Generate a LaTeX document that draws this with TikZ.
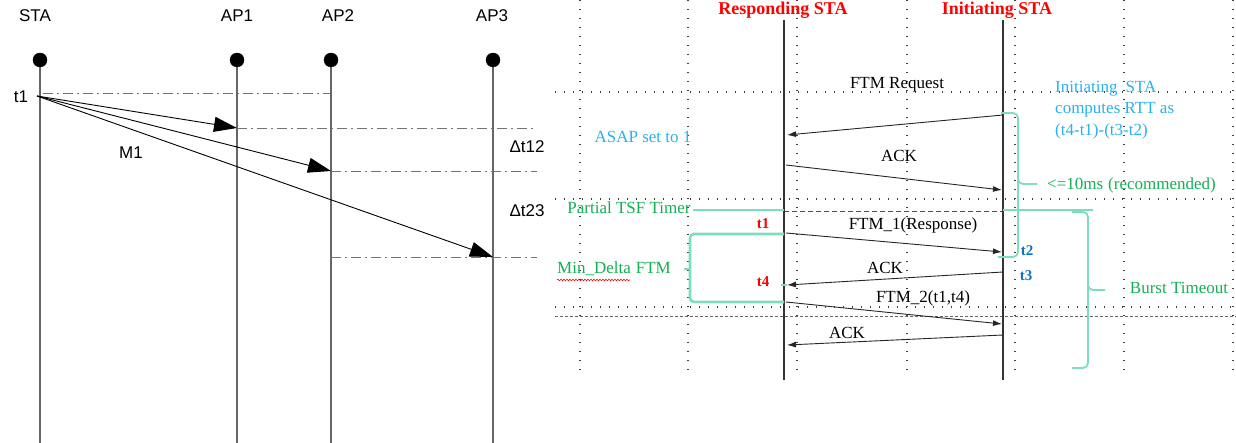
\documentclass[tikz,border=0pt]{standalone}
\usepackage{fontspec}
\setmainfont{Liberation Serif}
\setsansfont{Liberation Sans}
\usetikzlibrary{arrows.meta,decorations.pathmorphing}
\definecolor{bracketteal}{RGB}{125,222,190}
\definecolor{notegreen}{RGB}{20,175,85}
\definecolor{noteblue}{RGB}{40,178,235}
\definecolor{stamp}{RGB}{10,115,200}
\tikzset{
    lifeline/.style={draw=black!60, line width=1.1pt},
    headdot/.style={circle, fill=black, draw=black, inner sep=0pt, minimum size=14pt},
    sflabel/.style={font=\sffamily\fontsize{17}{20}\selectfont, inner sep=0pt},
    timeline/.style={draw=black!55, line width=0.9pt,
    dash pattern=on 10pt off 4pt on 2pt off 4pt},
    griddot/.style={draw=black!75, line width=1.1pt, dash pattern=on 1.1pt off 7.9pt},
    msglabel/.style={font=\fontsize{17}{19}\selectfont, inner sep=0pt},
}

\begin{document}
\begin{tikzpicture}[
            x=1pt, y=-1pt,
            probe/.style={draw=black, line width=0.9pt, -{Triangle[length=23pt,width=15pt]}},
            msg/.style={draw=black!85, line width=0.9pt, -{Latex[length=9pt,width=6pt]}},
            bracket/.style={draw=bracketteal, line width=2.6pt, rounded corners=4pt},
            brace/.style={draw=bracketteal, line width=1.8pt, rounded corners=5pt},
            stampred/.style={font=\bfseries\fontsize{15}{17}\selectfont, text=red, inner sep=0pt},
            stampblue/.style={font=\bfseries\fontsize{15}{17}\selectfont, text=stamp, inner sep=0pt}
        ]
            \useasboundingbox (0,0) rectangle (1236,443);
            % left: probe from STA to the APs
            \node[sflabel] (sta-l) at (35,16) {STA};
            \node[sflabel] (ap1-l) at (237,16) {AP1};
            \node[sflabel] (ap2-l) at (338,16) {AP2};
            \node[sflabel] (ap3-l) at (492,16) {AP3};
            \coordinate (sta-e) at (40,443);
            \coordinate (ap1-e) at (237,443);
            \coordinate (ap2-e) at (331,443);
            \coordinate (ap3-e) at (493,443);
            \draw[lifeline] (40,60) -- (sta-e);
            \draw[lifeline] (237,60) -- (ap1-e);
            \draw[lifeline] (331,60) -- (ap2-e);
            \draw[lifeline] (493,60) -- (ap3-e);
            \node[headdot] (sta) at (40,60) {};
            \node[headdot] (ap1) at (237,60) {};
            \node[headdot] (ap2) at (331,60) {};
            \node[headdot] (ap3) at (493,60) {};
            \coordinate (t1o) at (37,96);
            \coordinate (rx1) at (237,128);
            \coordinate (rx2) at (331,171);
            \coordinate (rx3) at (493,257);
            \draw[timeline] (43,93) -- (331,93);
            \draw[timeline] (rx1) -- (537,128);
            \draw[timeline] (rx2) -- (537,171);
            \draw[timeline] (331,257) -- (537,257);
            \draw[probe] (t1o) -- (rx1);
            \draw[probe] (t1o) -- (rx2);
            \draw[probe] (t1o) -- (rx3);
            \node[sflabel] (t1-l) at (21,97) {t1};
            \node[sflabel] (m1-l) at (131,153) {M1};
            \node[sflabel] (dt12) at (527,147) {Δt12};
            \node[sflabel] (dt23) at (527,211) {Δt23};
            % right: dotted grid
            \foreach \gx in {580,688,797,907,1015,1124,1233}
                \draw[griddot] (\gx,0) -- (\gx,374);
            \foreach \gy in {92,199,307}
                \draw[griddot] (555,\gy) -- (1236,\gy);
            \draw[draw=black!60, line width=0.8pt, dash pattern=on 3pt off 2pt] (555,316) -- (1236,316);
            \draw[draw=black!70, line width=0.9pt, dash pattern=on 5pt off 3pt] (784,211) -- (1003,211);
            % right: FTM exchange
            \node[font=\bfseries\fontsize{18}{20}\selectfont, text=red, anchor=base] (resp) at (783,15) {Responding STA};
            \node[font=\bfseries\fontsize{18}{20}\selectfont, text=red, anchor=base] (init) at (997,15) {Initiating STA};
            \coordinate (resp-t) at (784,20);
            \coordinate (resp-b) at (784,380);
            \coordinate (init-t) at (1003,20);
            \coordinate (init-b) at (1003,380);
            \draw[draw=black!80, line width=1.3pt] (resp-t) -- (resp-b);
            \draw[draw=black!80, line width=1.3pt] (init-t) -- (init-b);
            \coordinate (req-a) at (1003,115);
            \coordinate (req-b) at (787,135);
            \coordinate (ack1-a) at (786,165);
            \coordinate (ack1-b) at (1002,190);
            \coordinate (ftm1-a) at (786,233);
            \coordinate (ftm1-b) at (1002,252);
            \coordinate (ack2-a) at (1003,272);
            \coordinate (ack2-b) at (787,285);
            \coordinate (ftm2-a) at (786,302);
            \coordinate (ftm2-b) at (1002,324);
            \coordinate (ack3-a) at (1003,335);
            \coordinate (ack3-b) at (787,345);
            \draw[msg] (req-a) -- (req-b);
            \draw[msg] (ack1-a) -- (ack1-b);
            \draw[msg] (ftm1-a) -- (ftm1-b);
            \draw[msg] (ack2-a) -- (ack2-b);
            \draw[msg] (ftm2-a) -- (ftm2-b);
            \draw[msg] (ack3-a) -- (ack3-b);
            \node[msglabel] (req-l) at (897,85) {FTM Request};
            \node[msglabel] (ack1-l) at (899,156) {ACK};
            \node[msglabel] (ftm1-l) at (913,225) {FTM\_1(Response)};
            \node[msglabel] (ack2-l) at (885,268) {ACK};
            \node[msglabel] (ftm2-l) at (923,298) {FTM\_2(t1,t4)};
            \node[msglabel] (ack3-l) at (847,333) {ACK};
            % time stamps
            \node[stampred] (ts1) at (763,224) {t1};
            \node[stampred] (ts4) at (763,282) {t4};
            \node[stampblue] (ts2) at (1027,251) {t2};
            \node[stampblue] (ts3) at (1026,276) {t3};
            % notes and brackets
            \node[msglabel, text=noteblue] (asap) at (643,137) {ASAP set to 1};
            \node[msglabel, text=noteblue, align=left, anchor=west,
                font=\fontsize{17}{21.5}\selectfont] (rtt) at (1055,110)
                {Initiating\hspace{8pt}STA\\computes RTT as\\(t4-t1)-(t3-t2)};
            \node[msglabel, text=notegreen, anchor=west] (tenms) at (1047,185) {<=10ms\hspace{5pt}(recommended)};
            \node[msglabel, text=notegreen] (tsf) at (629,208) {Partial TSF Timer};
            \node[msglabel, text=notegreen, anchor=west] (mindelta) at (557,269) {Min\_Delta\hspace{5pt}FTM};
            \node[msglabel, text=notegreen] (burst) at (1179,288) {Burst Timeout};
            \draw[red, line width=0.6pt, decorate, decoration={snake, amplitude=0.8pt, segment length=3pt}]
                (557,280) -- (630,280);
            \draw[bracket] (693,210) -- (784,210);
            \draw[bracket] (1003,210) -- (1093,210);
            \draw[bracket] (784,234) -- (690,234) -- (690,302) -- (784,302);
            \draw[bracket] (684,269) -- (690,269);
            \draw[bracket] (781,285) -- (787,285);
            \draw[brace] (1001,113) -- (1018,113) -- (1018,184) -- (1037,184);
            \draw[brace] (1018,180) -- (1018,257) -- (998,257);
            \draw[brace] (1072,212) -- (1088,212) -- (1088,290) -- (1105,290);
            \draw[brace] (1088,286) -- (1088,368) -- (1072,368);
        \end{tikzpicture}
\end{document}
